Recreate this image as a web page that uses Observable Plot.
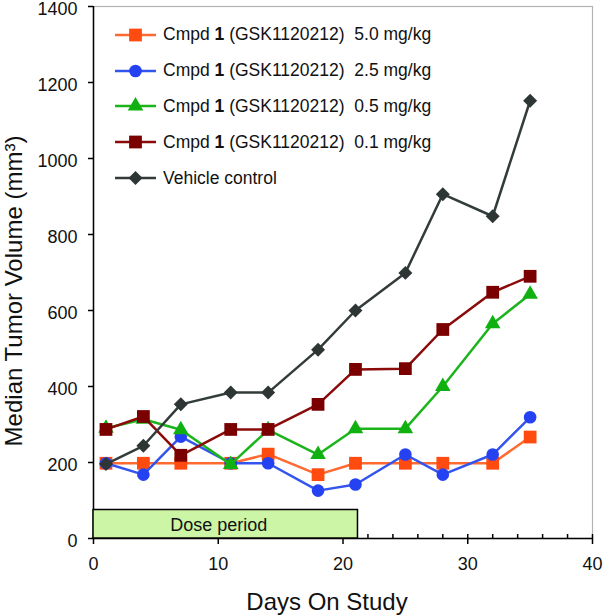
<!DOCTYPE html>
<html><head><meta charset="utf-8">
<script src="https://cdn.jsdelivr.net/npm/d3@7"></script>
<script src="https://cdn.jsdelivr.net/npm/@observablehq/plot@0.6"></script>
<style>
body{margin:0;background:#fff;font-family:"Liberation Sans",Arial,sans-serif;}
#wrap{position:relative;width:603px;height:615px;overflow:hidden;}
#legend{position:absolute;left:115px;top:17px;font-size:17.5px;color:#111;}
.row{display:flex;align-items:center;height:35.8px;white-space:pre;}
.row svg{flex:none;margin-right:7px;}
#ylabel{position:absolute;left:14px;top:291px;transform:translate(-50%,-50%) rotate(-90deg);white-space:nowrap;font-size:24px;line-height:1;color:#111;}
</style></head><body><div id="wrap"></div>
<script>
const days = [1, 4, 7, 11, 14, 18, 21, 25, 28, 32, 35];
const cmpd5_0 = [198, 198, 198, 198, 222, 168, 198, 198, 198, 198, 267];
const cmpd2_5 = [198, 168, 268, 198, 198, 126, 142, 221, 168, 221, 319];
const cmpd0_5 = [290, 314, 286, 195, 286, 221, 289, 289, 400, 565, 643];
const cmpd0_1 = [287, 321, 219, 287, 287, 353, 445, 447, 550, 648, 690];
const vehicle = [196, 244, 353, 384, 384, 497, 600, 699, 906, 848, 1152];
const seriesLabels = ["5.0 mg/kg", "2.5 mg/kg", "0.5 mg/kg", "0.1 mg/kg", "Vehicle control"];
const xTicks = [0, 10, 20, 30, 40];
const xMinorTicks = d3.range(0, 41, 2);
const yTicks = [0, 200, 400, 600, 800, 1000, 1200, 1400];
const dosePeriod = [{start: 0, end: 21.2, height: 75, label: "Dose period"}];
const xLabel = "Days On Study";
const yLabel = "Median Tumor Volume (mm³)";

const styles = [
  {line: "#ff6a30", fill: "#ff4a10", symbol: "square", r: 7.2},
  {line: "#3355ee", fill: "#2442f2", symbol: "circle", r: 6.3},
  {line: "#1cb41c", fill: "#10b010", symbol: "triangle", r: 5.8},
  {line: "#8b0a0a", fill: "#7a0000", symbol: "square", r: 7.2},
  {line: "#333b3b", fill: "#2e3535", symbol: "diamond2", r: 6.3}
];
const values = [cmpd5_0, cmpd2_5, cmpd0_5, cmpd0_1, vehicle];
const series = values.map((vals, i) => ({
  name: seriesLabels[i], ...styles[i],
  data: days.map((d, j) => ({day: d, value: vals[j]}))
}));

const font = '"Liberation Sans", Arial, sans-serif';
const fmt = d3.format("d");
const marks = [
  Plot.frame({stroke: "#b3b3b3", strokeWidth: 1.2}),
  Plot.axisY(yTicks, {tickSize: 5, tickFormat: () => "", label: null, stroke: "#000", strokeWidth: 1.5}),
  Plot.axisY(yTicks, {tickSize: 0, tickPadding: 16, tickFormat: fmt, dy: 2.5, fontSize: 18, label: null, fill: "#111"}),
  Plot.axisX(xTicks, {tickSize: 6, tickPadding: 13, tickFormat: fmt, fontSize: 18, label: null, stroke: "#000", strokeWidth: 1.5}),
  Plot.axisX(xMinorTicks, {tickSize: -4, tickFormat: () => "", label: null, stroke: "#000", strokeWidth: 1.5}),
  Plot.ruleX([0], {stroke: "#000", strokeWidth: 1.5}),
  Plot.ruleY([0], {stroke: "#000", strokeWidth: 1.5}),
  Plot.rect(dosePeriod, {x1: "start", x2: "end", y1: 0, y2: "height", fill: "#cdf5a6", stroke: "#000", strokeWidth: 1.5}),
  Plot.text(dosePeriod, {x: d => (d.start + d.end) / 2, y: d => d.height / 2, text: "label", dx: -7, dy: 1, fontSize: 18, fill: "#111"}),
  Plot.text([xLabel], {text: d => d, frameAnchor: "bottom", dx: -16, dy: 71, lineAnchor: "bottom", fontSize: 24, fill: "#111"})
];
for (const s of series) {
  marks.push(Plot.line(s.data, {x: "day", y: "value", stroke: s.line, strokeWidth: 2.5}));
  marks.push(Plot.dot(s.data, {x: "day", y: "value", symbol: s.symbol, r: s.r, fill: s.fill, stroke: "none"}));
}

const chart = Plot.plot({
  width: 603, height: 615,
  marginLeft: 93, marginRight: 11, marginTop: 6, marginBottom: 77,
  x: {domain: [0, 40], label: null},
  y: {domain: [0, 1400], label: null},
  style: {fontFamily: font, fontSize: "18px", color: "#111", background: "white"},
  marks
});
const wrap = document.getElementById("wrap");
wrap.appendChild(chart);

const yl = document.createElement("div");
yl.id = "ylabel";
yl.textContent = yLabel;
wrap.appendChild(yl);

// legend
const legend = document.createElement("div");
legend.id = "legend";
const symMap = {square: d3.symbolSquare, circle: d3.symbolCircle, triangle: d3.symbolTriangle, diamond2: d3.symbolDiamond2};
series.forEach((s, i) => {
  const row = document.createElement("div");
  row.className = "row";
  const path = d3.symbol(symMap[s.symbol], Math.PI * s.r * s.r)();
  row.innerHTML = `<svg width="41" height="20" viewBox="0 0 41 20"><line x1="0" x2="41" y1="10" y2="10" stroke="${s.line}" stroke-width="2.5"/><path d="${path}" transform="translate(20.5,10)" fill="${s.fill}"/></svg>` +
    (i < 4 ? `<span>Cmpd <b>1</b> (GSK1120212)  ${s.name}</span>` : `<span>${s.name}</span>`);
  legend.appendChild(row);
});
wrap.appendChild(legend);
</script></body></html>
